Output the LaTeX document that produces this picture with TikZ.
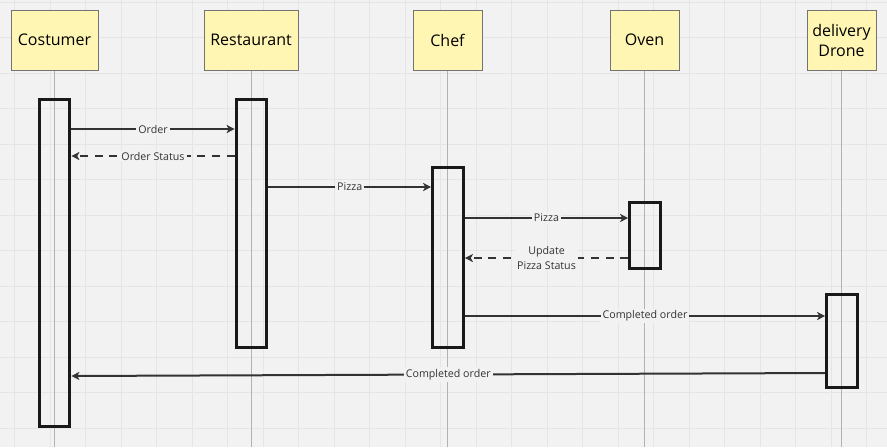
\documentclass[tikz,border=0pt]{standalone}
\usepackage{fontspec}
\setmainfont{Open Sans}
\usetikzlibrary{arrows.meta, positioning}

\definecolor{bgcol}{HTML}{F2F2F2}
\definecolor{gridcol}{HTML}{E5E5E5}
\definecolor{notecol}{HTML}{FFF6B3}
\definecolor{inkcol}{HTML}{333333}

\begin{document}
\begin{tikzpicture}[
  x=0.75pt, y=-0.75pt, >={Stealth[length=6pt, width=6pt, inset=1.5pt]},
  actor/.style={rectangle, draw=black!55, fill=notecol, line width=0.75pt,
    minimum width=51.75pt, minimum height=45pt, inner sep=0pt, align=center,
    font=\fontsize{12}{15}\selectfont},
  lifeline/.style={draw=black!30, line width=0.75pt},
  activation/.style={rectangle, draw=black!90, line width=2.25pt,
    minimum width=23pt, inner sep=0pt},
  msg/.style={->, draw=inkcol, line width=1.5pt},
  reply/.style={msg, dash pattern=on 6pt off 5pt},
  msglabel/.style={fill=bgcol, inner sep=1.5pt, text=inkcol, align=center,
    font=\fontsize{8}{11}\selectfont}
]
  % canvas and grid
  \useasboundingbox[fill=bgcol] (0,0) rectangle (887,447);
  \foreach \i in {0,...,24}
    \draw[gridcol, line width=0.75pt] (14.5+35.5*\i,0) -- (14.5+35.5*\i,447);
  \foreach \j in {0,...,12}
    \draw[gridcol, line width=0.75pt] (0,2+35.5*\j) -- (887,2+35.5*\j);

  % participants
  \node[actor, minimum width=65.25pt] (costumer) at (54.5,40) {Costumer};
  \node[actor, minimum width=70.5pt] (restaurant) at (251,40) {Restaurant};
  \node[actor] (chef) at (447.5,40) {Chef};
  \node[actor] (oven) at (644.5,40) {Oven};
  \node[actor] (drone) at (841.5,40) {delivery\\Drone};

  \foreach \p in {costumer, restaurant, chef, oven, drone}
    \draw[lifeline] (\p.south) -- (\p.south |- 0,447);

  % activations
  \node[activation, minimum height=245.5pt] (actCostumer) at (54.5,263.25) {};
  \node[activation, minimum height=186.5pt] (actRestaurant) at (251.5,223.5) {};
  \node[activation, minimum height=135pt] (actChef) at (448,257.25) {};
  \node[activation, minimum height=49.5pt] (actOven) at (645,235) {};
  \node[activation, minimum height=70pt] (actDrone) at (842,341) {};

  % messages
  \draw[msg] (actCostumer.east |- 0,129) -- node[msglabel] {Order} (actRestaurant.west |- 0,129);
  \draw[reply] (actRestaurant.west |- 0,156) -- node[msglabel] {Order Status} (actCostumer.east |- 0,156);
  \draw[msg] (actRestaurant.east |- 0,187) -- node[msglabel] {Pizza} (actChef.west |- 0,187);
  \draw[msg] (actChef.east |- 0,218) -- node[msglabel] {Pizza} (actOven.west |- 0,218);
  \draw[reply] (actOven.west |- 0,258) -- node[msglabel] {Update\\Pizza Status} (actChef.east |- 0,258);
  \draw[msg] (actChef.east |- 0,316) -- node[msglabel] {Completed order} (actDrone.west |- 0,316);
  \draw[msg] (actDrone.west |- 0,373) -- node[msglabel] {Completed order} (actCostumer.east |- 0,376);
\end{tikzpicture}
\end{document}
